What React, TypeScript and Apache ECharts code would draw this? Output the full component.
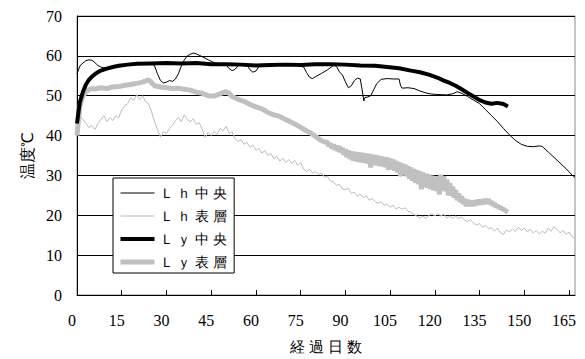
import React, { useEffect, useRef } from "react";
import * as echarts from "echarts";

const seriesNames = ["Ｌ ｈ 中 央", "Ｌ ｈ 表 層", "Ｌ ｙ 中 央", "Ｌ ｙ 表 層"];
const yTicks = { min: 0, max: 70, interval: 10 };
const xTicks = { min: 0, max: 167, interval: 15 };

// Lh 中央 : [day, °C]
const lhCenter: [number, number][] = [
  [0, 55.5], [1, 57.5], [2, 58.2], [3, 58.8], [4, 59], [5, 58.9], [6, 58.3], [7, 57.6], [8, 57.2], [9, 57.0],
  [10, 57.1], [12, 57.3], [14, 57.5], [18, 57.9], [22, 58.1], [25, 58], [26, 57.5], [27, 55.5], [28, 53.8],
  [29, 53.2], [30, 53.4], [31, 53.8], [32, 53.6], [33, 54.2], [34, 55.5], [35, 57.5], [36, 59], [37, 60],
  [38, 60.4], [39, 60.7], [40, 60.5], [42, 59.8], [44, 59], [46, 58.3], [48, 58], [50, 57.8], [51, 56.8],
  [52, 56.3], [53, 56.6], [54, 57.5], [55, 58], [57, 57.8], [58, 56.5], [59, 55.9], [60, 56.2], [61, 57.3],
  [62, 57.9], [65, 57.8], [68, 57.6], [71, 57.8], [74, 57.6], [76, 57.2], [77, 55.8], [78, 54.6], [79, 54.3],
  [80, 54.8], [82, 55.6], [84, 56.5], [86, 57.6], [87, 57.4], [88, 56], [89, 55.2], [90, 53.5], [91, 52],
  [92, 52.5], [93, 53.8], [94, 54.4], [95, 54.2], [95.5, 52], [96.2, 48.7], [96.5, 49.5], [97.5, 49.7],
  [98.5, 50], [99.5, 51.5], [100.5, 53], [102, 54.1], [104, 54.3], [106, 54.2], [108, 54.2], [108.5, 52.5],
  [109, 51.9], [111, 52], [113, 51.8], [115, 51.2], [117, 50.7], [119, 50.4], [121, 50.3], [124, 50.2],
  [126, 50.5], [127.5, 51], [129, 50.6], [131, 49.8], [133, 48.9], [135, 48], [137, 46.5], [139, 45],
  [141, 43.5], [143, 41.8], [145, 40.2], [147, 38.8], [149, 37.8], [151, 37.3], [153, 37.2], [155, 37.4],
  [156, 37.3], [158, 35.9], [160, 34.5], [162, 33.1], [164, 31.7], [166, 30.1], [167, 29.5],
];

// Lh 表層 : one value per day from day 0
const lhSurface: number[] = [
  40, 45, 44, 43, 42, 42.5, 41.5, 43, 44, 45,
  43.5, 44.5, 43.8, 45, 44.5, 46.5, 47.5, 48, 49.5, 48.8,
  50.3, 49, 50, 48.5, 48, 46, 43.5, 41.5, 39.6, 41,
  40.5, 41.8, 42.5, 43.8, 44.5, 43.5, 45.2, 44, 43.5, 44.2,
  42.8, 43.2, 41.5, 39.5, 40.8, 40, 41, 40.3, 41.8, 41.2,
  42.3, 40.5, 41, 39.2, 38.5, 39, 37.8, 38.3, 37, 37.6,
  36.3, 36.8, 35.6, 36.2, 35, 35.5, 34.2, 34.8, 33.6, 34.3,
  33.2, 34, 33, 33.8, 32.5, 33.2, 31.6, 31, 31.5, 30.6,
  31, 30.2, 30.6, 29.5, 29.8, 28.6, 28.4, 27.5, 27.8, 26.6,
  26.4, 26.8, 25.5, 25.8, 24.8, 25.3, 24.4, 24.9, 23.8, 24.2,
  23.4, 23, 23.4, 22.5, 22.8, 22, 22.5, 21.6, 22, 21.5,
  21.9, 21, 20.8, 20.2, 19.8, 19.3, 19.8, 19.2, 20, 20.4,
  19.8, 20.5, 19.8, 20.3, 19.3, 19.8, 19.2, 19.8, 19.2, 19.6,
  18.8, 18.4, 18.9, 18, 17.6, 17.9, 17, 17.4, 16.6, 16.9,
  16, 16.8, 15.6, 15.2, 16.3, 15.8, 16.6, 15.9, 17, 16.2,
  16.8, 15.8, 16.5, 15.5, 16.2, 15.3, 16, 15.5, 16.8, 16,
  17.2, 16.4, 15.6, 16.2, 15.2, 15.8, 14.6, 14.2,
];

// Ly 中央 : [day, °C]
const lyCenter: [number, number][] = [
  [0, 43], [0.5, 46], [1, 48.5], [2, 51], [3, 52.8], [4, 54], [5, 54.8], [6, 55.4], [7, 55.9], [8, 56.3],
  [10, 56.8], [12, 57.2], [14, 57.5], [17, 57.8], [20, 58], [25, 58.1], [30, 58.2], [35, 58.1], [40, 58.2],
  [45, 57.9], [50, 57.9], [55, 57.8], [60, 57.6], [65, 57.7], [70, 57.8], [75, 57.7], [80, 57.9], [85, 57.9],
  [90, 57.8], [95, 57.6], [100, 57.5], [104, 57.2], [108, 56.9], [112, 56.3], [115, 55.9], [118, 55.3],
  [121, 54.5], [123, 53.8], [125, 53.2], [127, 52.5], [129, 51.6], [131, 50.7], [133, 49.8], [135, 48.9],
  [137, 48.3], [139, 48], [141, 48.2], [143, 47.9], [144.5, 47.3],
];

// Ly 表層 : smooth part [day, °C]
const lySurfaceHead: [number, number][] = [
  [0, 40], [0.5, 44], [1, 47.5], [2, 50], [3, 51], [4, 51.5], [5, 51.8], [6, 51.7], [8, 52], [10, 51.8],
  [12, 52.2], [14, 52.3], [16, 52.6], [18, 52.8], [20, 53.1], [22, 53.4], [24, 54], [25, 53.3], [26, 52.5],
  [28, 52.2], [30, 52], [32, 51.8], [34, 51.9], [36, 51.6], [38, 51.4], [40, 50.9], [42, 50.6], [44, 50],
  [46, 49.9], [48, 50.5], [50, 51], [51, 50.6], [52, 49.8], [54, 49.1], [56, 48.6], [58, 47.8], [60, 47.2],
  [62, 46.7], [64, 45.8], [66, 45.2], [68, 44.8], [70, 44], [72, 43.3], [74, 42.5], [76, 41.6], [78, 40.8],
  [80, 39.8], [82, 38.7], [83, 38.4],
];
// Ly 表層 : daily high / low from day 84 to day 144
const lyBandStart = 84;
const lySurfaceHi: number[] = [
  38.3, 38.0, 37.8, 37.5, 37.3, 36.9, 36.6, 36.3, 36.0, 35.9,
  35.8, 35.7, 35.6, 35.5, 35.4, 35.2, 35.1, 34.9, 34.8, 34.6,
  34.5, 34.2, 34.0, 33.6, 33.3, 33.0, 32.7, 32.3, 32.0, 31.6,
  31.3, 31.0, 30.7, 30.4, 30.2, 29.9, 29.6, 29.8, 30.2, 29.8,
  29.0, 28.1, 27.2, 26.3, 25.5, 24.8, 24.1, 23.9, 23.7, 23.7,
  23.8, 23.9, 24.0, 24.1, 24.0, 23.5, 23.1, 22.5, 22.0, 21.5,
  21.0,
];
const lySurfaceLo: number[] = [
  37.3, 36.8, 36.4, 36.1, 35.8, 35.2, 34.6, 34.2, 33.8, 33.6,
  33.4, 33.3, 33.2, 33.0, 32.0, 32.7, 32.6, 32.4, 32.3, 32.1,
  31.4, 31.6, 31.2, 30.8, 29.8, 30.1, 29.8, 29.2, 28.7, 28.2,
  27.8, 26.5, 27.2, 26.9, 26.6, 26.3, 26.1, 25.2, 26.5, 26.0,
  25.0, 24.9, 24.4, 23.8, 23.3, 22.8, 22.3, 22.3, 22.3, 22.4,
  22.6, 22.7, 22.8, 22.9, 22.8, 22.4, 22.0, 21.8, 21.6, 21.3,
  20.8,
];
const lySurfaceTail: [number, number][] = [[144.5, 20.7]];

const legendLineWidths = [1, 1, 4, 5];
const numFont = "Liberation Serif";

export default function App() {
  const ref = useRef<HTMLDivElement>(null);
  useEffect(() => {
    document.body.style.margin = "0";
    if (!ref.current) return;
    const chart = echarts.init(ref.current, undefined, { renderer: "svg" });

    const lySurface: [number, number][] = [...lySurfaceHead];
    lySurfaceHi.forEach((hi, i) => {
      lySurface.push([lyBandStart + i, hi]);
      lySurface.push([lyBandStart + i + 0.5, lySurfaceLo[i]]);
    });
    lySurface.push(...lySurfaceTail);

    const lhSurfaceData = lhSurface.map((v, i) => [i, v]);

    chart.setOption({
      animation: false,
      grid: {
        left: 77,
        right: 10,
        top: 16,
        bottom: 64,
        show: true,
        borderColor: "#8c8c8c",
        borderWidth: 1,
      },
      legend: {
        orient: "vertical",
        left: 113,
        top: 178,
        padding: [8, 7, 4, 5],
        itemWidth: 34,
        itemHeight: 14,
        itemGap: 9,
        backgroundColor: "#fff",
        borderColor: "#000",
        borderWidth: 1,
        borderRadius: 0,
        itemStyle: { opacity: 0 },
        textStyle: { fontSize: 14, color: "#000" },
        data: seriesNames.map((name, i) => ({ name, lineStyle: { width: legendLineWidths[i] } })),
      },
      xAxis: {
        type: "value",
        min: xTicks.min,
        max: xTicks.max,
        interval: xTicks.interval,
        name: "経 過 日 数",
        nameLocation: "middle",
        nameGap: 44,
        nameTextStyle: { fontSize: 15, color: "#000" },
        axisLine: { show: true, lineStyle: { color: "#000", width: 1 } },
        axisTick: { show: true, inside: true, length: 5, lineStyle: { color: "#000" } },
        axisLabel: {
          fontFamily: numFont,
          fontSize: 16,
          color: "#000",
          margin: 17,
          padding: [0, 10, 0, 0],
          showMaxLabel: false,
        },
        splitLine: { show: false },
      },
      yAxis: {
        type: "value",
        min: yTicks.min,
        max: yTicks.max,
        interval: yTicks.interval,
        name: "温度℃",
        nameLocation: "middle",
        nameGap: 35,
        nameTextStyle: { fontSize: 16, color: "#000" },
        axisLine: { show: true, lineStyle: { color: "#000", width: 1 } },
        axisTick: { show: false },
        axisLabel: { fontFamily: numFont, fontSize: 16, color: "#000", margin: 15 },
        splitLine: { show: true, lineStyle: { color: "#000", width: 1 } },
      },
      series: [
        {
          name: seriesNames[0],
          type: "line",
          data: lhCenter,
          symbol: "none",
          z: 5,
          lineStyle: { color: "#000", width: 1 },
          itemStyle: { color: "#000" },
        },
        {
          name: seriesNames[1],
          type: "line",
          data: lhSurfaceData,
          symbol: "none",
          z: 3,
          lineStyle: { color: "#bcbcbc", width: 1 },
          itemStyle: { color: "#bcbcbc" },
        },
        {
          name: seriesNames[2],
          type: "line",
          data: lyCenter,
          symbol: "none",
          z: 4,
          lineStyle: { color: "#000", width: 4 },
          itemStyle: { color: "#000" },
        },
        {
          name: seriesNames[3],
          type: "line",
          data: lySurface,
          symbol: "none",
          z: 2,
          lineStyle: { color: "#c0c0c0", width: 5 },
          itemStyle: { color: "#c0c0c0" },
        },
      ],
    });
    return () => chart.dispose();
  }, []);
  return <div ref={ref} style={{ width: 585, height: 359 }} />;
}
